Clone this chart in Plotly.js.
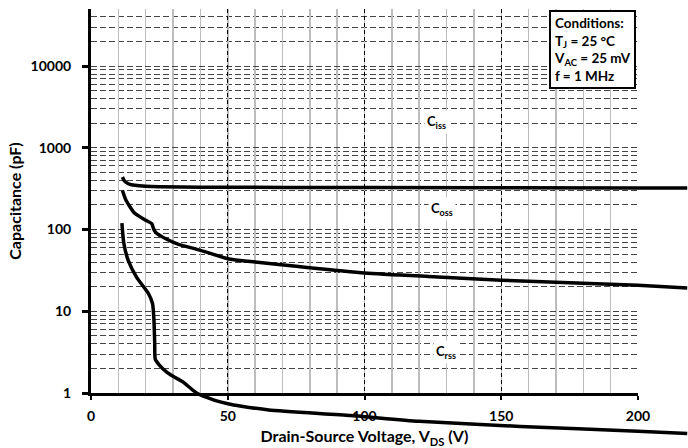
<!DOCTYPE html>
<html>
<head>
<meta charset="utf-8">
<script src="https://cdn.plot.ly/plotly-3.0.1.min.js"></script>
<style>html,body{margin:0;padding:0;background:#fff;}#chart{width:688px;height:448px;}</style>
</head>
<body>
<div id="chart"></div>
<script>
// Data
const cissX = [11.5, 12, 13, 14, 16, 20, 25, 40, 100, 200, 218];
const cissY = [440, 405, 375, 360, 348, 338, 333, 330, 327, 323, 322];

const cossX = [11.5, 12.8, 16, 20, 22.2, 23, 24, 27.7, 32, 39.8, 50, 60, 75, 100, 125, 150, 175, 200, 218];
const cossY = [300, 228, 158, 130, 118, 100, 90, 76, 66, 56, 44, 40, 35.5, 29.5, 26.5, 24, 22.3, 20.8, 19.3];

const crssX = [11.3, 12, 13.6, 16.7, 21, 22.5, 23, 23.3, 23.5, 25, 27.7, 30, 33.7, 38.6, 45, 50, 55, 65, 95, 120, 157, 200, 218];
const crssY = [120, 68, 42, 26, 16.5, 12.4, 8, 4, 2.6, 2.2, 1.8, 1.6, 1.36, 1.0, 0.82, 0.74, 0.69, 0.62, 0.53, 0.45, 0.39, 0.34, 0.32];

const yTickVals = [1, 10, 100, 1000, 10000];
const yTickText = ['1', '10', '100', '1000', '10000'];

const seriesLabels = ['C<sub>iss</sub>', 'C<sub>oss</sub>', 'C<sub>rss</sub>'];
const labelX = [126.5, 128.3, 129.8];
const labelY = [2056, 177, 3.15];

const conditionsText = '<b>Conditions:<br>T<sub>J</sub> = 25 °C<br>V<sub>AC</sub> = 25 mV<br>f = 1 MHz</b>';

const FONT = 'Lato, "Open Sans", sans-serif';

// geometry: the framed plot sits inside a wider, taller invisible area so curves may run past the frame
const W = 688, H = 448;
const mL = 91, mT = 9;
const frameR = 50, frameB = 55;
const paperW = W - mL, paperH = H - mT;
const xDom = [0, (paperW - frameR) / paperW];
const yDom = [frameB / paperH, 1];
const xRange = [0, 200];
const yRange = [0, Math.log10(50000)];
const x2Range = [xRange[0], xRange[0] + (xRange[1] - xRange[0]) / xDom[1]];
const yspan = yRange[1] - yRange[0];
const y2Range = [yRange[1] - yspan / (1 - yDom[0]), yRange[1]];

const lineStyle = {color: '#000', width: 3.5, shape: 'spline', smoothing: 0.6};
const traces = [
  // invisible traces keep the framed subplots alive
  {x: xRange, y: [1, 1], xaxis: 'x', yaxis: 'y', mode: 'lines', line: {width: 0}, hoverinfo: 'skip'},
  {x: xRange, y: [1, 1], xaxis: 'x3', yaxis: 'y', mode: 'lines', line: {width: 0}, hoverinfo: 'skip'},
  {x: cissX, y: cissY, xaxis: 'x2', yaxis: 'y2', mode: 'lines', line: lineStyle, hoverinfo: 'skip'},
  {x: cossX, y: cossY, xaxis: 'x2', yaxis: 'y2', mode: 'lines', line: lineStyle, hoverinfo: 'skip'},
  {x: crssX, y: crssY, xaxis: 'x2', yaxis: 'y2', mode: 'lines', line: lineStyle, hoverinfo: 'skip'}
];

const annotations = seriesLabels.map((t, i) => ({
  x: labelX[i], y: Math.log10(labelY[i]), xref: 'x', yref: 'y',
  text: '<b>' + t + '</b>', showarrow: false,
  font: {family: FONT, size: 13, color: '#000'},
  bgcolor: '#fff', borderpad: 2
}));
annotations.push({
  x: xDom[1] - 0.003, y: 0.998, xref: 'paper', yref: 'paper', xanchor: 'right', yanchor: 'top',
  text: conditionsText, showarrow: false, align: 'left',
  font: {family: FONT, size: 13.5, color: '#000'},
  bgcolor: '#fff', bordercolor: '#000', borderwidth: 2, borderpad: 3
});

const layout = {
  width: W, height: H,
  margin: {l: mL, r: 0, t: mT, b: 0},
  paper_bgcolor: '#fff', plot_bgcolor: 'rgba(0,0,0,0)',
  showlegend: false,
  font: {family: FONT, color: '#000'},
  // fine vertical grid every 10 V
  xaxis: {
    domain: xDom, anchor: 'y',
    range: xRange, tickmode: 'linear', tick0: 0, dtick: 10,
    showgrid: true, gridcolor: '#bdbdbd', gridwidth: 1.5,
    showticklabels: false, ticks: '', showline: false, zeroline: false
  },
  // labelled axis every 50 V with dashed black grid
  xaxis3: {
    domain: xDom, anchor: 'y', overlaying: 'x',
    range: xRange, tickmode: 'linear', tick0: 0, dtick: 50,
    showgrid: true, gridcolor: '#000', gridwidth: 1, griddash: '4px,3px',
    showline: true, linecolor: '#000', linewidth: 3,
    ticks: 'outside', ticklen: 4, tickwidth: 2, tickcolor: '#000',
    ticklabelstandoff: 4,
    zeroline: false,
    tickfont: {family: FONT, size: 14, weight: 'bold'},
    title: {text: '<b>Drain-Source Voltage, V<sub>DS</sub> (V)</b>', font: {family: FONT, size: 16}, standoff: 9}
  },
  yaxis: {
    domain: yDom, anchor: 'x',
    type: 'log', range: yRange,
    tickmode: 'array', tickvals: yTickVals, ticktext: yTickText,
    showgrid: true, gridcolor: '#444', gridwidth: 1, griddash: '6px,3px',
    minor: {tickmode: 'linear', dtick: 'D1', showgrid: true, gridcolor: '#444', gridwidth: 1, griddash: '6px,3px'},
    showline: true, linecolor: '#000', linewidth: 3,
    ticks: 'outside', ticklen: 6, tickwidth: 3, tickcolor: '#000',
    ticklabelstandoff: 8,
    zeroline: false,
    tickfont: {family: FONT, size: 14, weight: 'bold'},
    title: {text: '<b>Capacitance (pF)</b>', font: {family: FONT, size: 16}, standoff: 5}
  },
  xaxis2: {domain: [0, 1], anchor: 'y2', range: x2Range, visible: false, fixedrange: true},
  yaxis2: {domain: [0, 1], anchor: 'x2', type: 'log', range: y2Range, visible: false, fixedrange: true},
  annotations: annotations
};

Plotly.newPlot('chart', traces, layout, {staticPlot: true, displayModeBar: false});
</script>
</body>
</html>
